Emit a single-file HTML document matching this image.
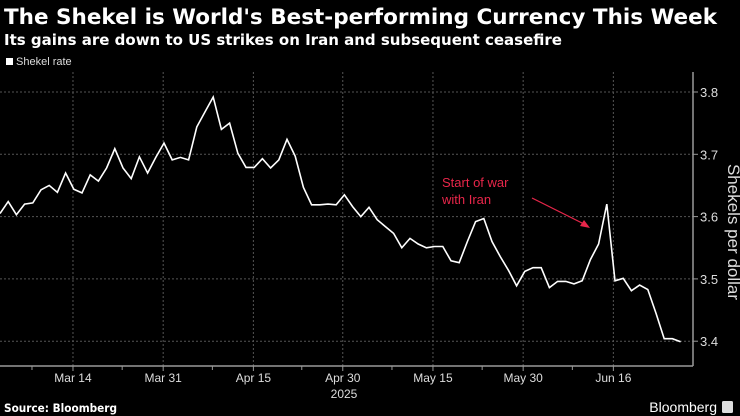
<!DOCTYPE html>
<html><head><meta charset="utf-8"><style>
body{margin:0;background:#000;width:740px;height:416px;overflow:hidden;font-family:"Liberation Sans","DejaVu Sans",sans-serif;color:#fff}
svg{position:absolute;left:0;top:0}
</style></head><body>
<svg width="740" height="416">
<text x="4" y="24" font-size="21" font-weight="bold" fill="#fff" font-family="DejaVu Sans, sans-serif" textLength="713" lengthAdjust="spacingAndGlyphs">The Shekel is World's Best-performing Currency This Week</text>
<text x="4" y="45" font-size="15" font-weight="bold" fill="#fff" font-family="DejaVu Sans, sans-serif">Its gains are down to US strikes on Iran and subsequent ceasefire</text>
<rect x="6" y="58" width="7" height="7" fill="#fff"/>
<text x="16" y="65" font-size="11" fill="#ddd">Shekel rate</text>
<g id="grid"></g>
<line x1="0" y1="366" x2="693" y2="366" stroke="#999" stroke-width="1.5"/>
<line x1="693" y1="72" x2="693" y2="366" stroke="#999" stroke-width="1.5"/>
<g id="ticks"></g>
<text x="728" y="232" font-size="17" fill="#ddd" text-anchor="middle" transform="rotate(90 728 232)">Shekels per dollar</text>
<text x="344" y="398" font-size="12" fill="#ddd" text-anchor="middle">2025</text>
<text x="442" y="187" font-size="13" fill="#e8264a">Start of war</text>
<text x="442" y="204" font-size="13" fill="#e8264a">with Iran</text>
<line x1="532" y1="198" x2="588" y2="226" stroke="#e8264a" stroke-width="1.2"/>
<path d="M590,228 L580,226 L584,220 Z" fill="#e8264a"/>
<polyline id="line" fill="none" stroke="#fff" stroke-width="1.6"/>
<text x="4" y="412" font-size="11.5" font-weight="bold" fill="#fff" font-family="DejaVu Sans, sans-serif" textLength="113" lengthAdjust="spacingAndGlyphs">Source: Bloomberg</text>
<text x="717" y="412" font-size="14" fill="#fff" text-anchor="end">Bloomberg</text>
<rect x="722" y="401" width="11" height="12" rx="1.5" fill="#ddd"/>
</svg>
<script>
const values=[3.605,3.624,3.603,3.620,3.622,3.643,3.650,3.639,3.670,3.644,3.638,3.667,3.657,3.678,3.709,3.678,3.661,3.696,3.670,3.695,3.718,3.691,3.695,3.691,3.744,3.768,3.792,3.740,3.750,3.702,3.679,3.679,3.693,3.678,3.691,3.724,3.697,3.647,3.619,3.619,3.620,3.619,3.635,3.616,3.600,3.615,3.595,3.584,3.573,3.550,3.565,3.556,3.550,3.552,3.552,3.529,3.526,3.560,3.592,3.597,3.560,3.536,3.514,3.489,3.512,3.518,3.518,3.486,3.496,3.496,3.492,3.497,3.531,3.556,3.620,3.497,3.501,3.481,3.490,3.483,3.445,3.404,3.404,3.399];
const yTicks=[3.4,3.5,3.6,3.7,3.8];
const xLabels=["Mar 14","Mar 31","Apr 15","Apr 30","May 15","May 30","Jun 16"];
const xLabelIdx=[8.9,19.9,30.9,41.8,52.8,63.8,74.8];
const NS="http://www.w3.org/2000/svg";
const xs=i=>i*8.2;
const ys=v=>92+(3.8-v)*623;
document.getElementById('line').setAttribute('points',values.map((v,i)=>xs(i).toFixed(1)+','+ys(v).toFixed(1)).join(' '));
const grid=document.getElementById('grid'),ticks=document.getElementById('ticks');
function mk(tag,attrs,parent){const e=document.createElementNS(NS,tag);for(const k in attrs)e.setAttribute(k,attrs[k]);parent.appendChild(e);return e;}
yTicks.forEach(v=>{
  const l=mk('line',{x1:0,x2:693,y1:ys(v),y2:ys(v),stroke:'#555','stroke-dasharray':'2,2'},grid);
  
  
  const t=mk('line',{x1:693,x2:698,y1:ys(v),y2:ys(v),stroke:'#999'},ticks);
  
  
  const tx=mk('text',{x:700,y:ys(v)+5,'font-size':13,fill:'#ddd'},ticks);
  tx.textContent=v.toFixed(1);
  
  
});
xLabels.forEach((s,k)=>{
  const x=xs(xLabelIdx[k]);
  const g=mk('line',{x1:x,x2:x,y1:72,y2:366,stroke:'#555','stroke-dasharray':'2,2'},grid);
  
  
  const t=mk('line',{x1:x,x2:x,y1:366,y2:371,stroke:'#999'},ticks);
  
  
  const m=mk('line',{x1:x-41,x2:x-41,y1:366,y2:370,stroke:'#999'},ticks);
  
  
  const tx=mk('text',{x:x,y:382,'font-size':12,fill:'#ddd','text-anchor':'middle'},ticks);
  tx.textContent=s;
  
  
});
</script>
</body></html>
